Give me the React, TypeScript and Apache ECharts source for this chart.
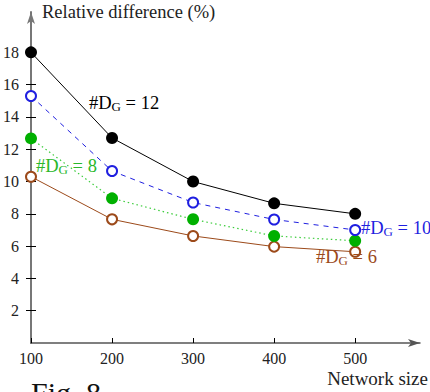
import React, { useEffect, useRef } from "react";
import * as echarts from "echarts";

const networkSizes = [100, 200, 300, 400, 500];
const dg12 = [18.0, 12.7, 10.0, 8.65, 8.0];
const dg10 = [15.3, 10.65, 8.7, 7.65, 7.0];
const dg8 = [12.67, 8.96, 7.66, 6.63, 6.33];
const dg6 = [10.3, 7.66, 6.63, 5.97, 5.65];
const xTicks = [100, 200, 300, 400, 500];
const yTicks = [2, 4, 6, 8, 10, 12, 14, 16, 18];

const FONT = "Liberation Serif";

function pairs(vals: number[]) {
  return networkSizes.map((x, i) => [x, vals[i]]);
}

function label(text: string, color: string, x: number, y: number) {
  return {
    type: "text",
    x,
    y,
    z: 100,
    style: {
      text: `{a|#D}{s|G}{a| = ${text}}`,
      fill: color,
      fontFamily: FONT,
      verticalAlign: "top",
      rich: {
        a: { fontFamily: FONT, fontSize: 18.5, lineHeight: 20, fill: color, verticalAlign: "middle" },
        s: { fontFamily: FONT, fontSize: 13, lineHeight: 12, fill: color, verticalAlign: "bottom" },
      },
    },
  };
}

export default function App() {
  const ref = useRef<HTMLDivElement>(null);
  useEffect(() => {
    const chart = echarts.init(ref.current!, null, { renderer: "svg" });
    const blue = "#1f1fe0";
    const greenPt = "#00b000";
    const greenLine = "#3acc3a";
    const brown = "#9c4a1a";
    const gridBox = { left: 31, right: 10, top: 12, bottom: 49, containLabel: false };
    chart.setOption({
      animation: false,
      backgroundColor: "#fff",
      textStyle: { fontFamily: FONT },
      grid: [gridBox, { ...gridBox }],
      xAxis: [
        {
          type: "value",
          gridIndex: 0,
          min: 100,
          max: 580,
          interval: 100,
          axisLine: {
            lineStyle: { color: "#555", width: 1.5 },
            symbol: ["none", "arrow"],
            symbolSize: [6, 12],
          },
          axisTick: { show: true, inside: true, length: 5, lineStyle: { color: "#000", width: 1 }, customValues: xTicks },
          axisLabel: { fontFamily: FONT, fontSize: 16, color: "#222", margin: 7, customValues: xTicks },
          splitLine: { show: false },
        },
        {
          type: "value",
          gridIndex: 1,
          min: 100,
          max: 580,
          show: false,
        },
      ],
      yAxis: [
        {
          type: "value",
          gridIndex: 0,
          min: 0,
          max: 20.5,
          interval: 2,
          axisLine: {
            show: true,
            lineStyle: { color: "#777", width: 2 },
            symbol: ["none", "arrow"],
            symbolSize: [6, 12],
          },
          axisTick: { show: true, length: 5, lineStyle: { color: "#000", width: 1 }, customValues: yTicks },
          axisLabel: { fontFamily: FONT, fontSize: 16, color: "#222", margin: 12, customValues: yTicks },
          splitLine: { show: false },
        },
        {
          type: "value",
          gridIndex: 1,
          min: 0,
          max: 20.5,
          interval: 2,
          position: "left",
          axisLine: { show: false },
          axisTick: { show: true, inside: true, length: 5, lineStyle: { color: "#000", width: 1 }, customValues: yTicks },
          axisLabel: { show: false },
          splitLine: { show: false },
        },
      ],
      series: [
        {
          type: "line",
          data: pairs(dg6),
          symbol: "emptyCircle",
          symbolSize: 10,
          lineStyle: { color: brown, width: 1 },
          itemStyle: { color: brown, borderColor: brown, borderWidth: 1 },
          z: 2,
        },
        {
          type: "line",
          data: pairs(dg8),
          symbol: "circle",
          symbolSize: 12,
          lineStyle: { color: greenLine, width: 1.2, type: [1.5, 3] },
          itemStyle: { color: greenPt },
          z: 3,
        },
        {
          type: "line",
          data: pairs(dg10),
          symbol: "emptyCircle",
          symbolSize: 10,
          lineStyle: { color: blue, width: 1, type: [5, 5] },
          itemStyle: { color: blue, borderColor: blue, borderWidth: 1 },
          z: 4,
        },
        {
          type: "line",
          data: pairs(dg12),
          symbol: "circle",
          symbolSize: 12,
          lineStyle: { color: "#000", width: 1 },
          itemStyle: { color: "#000" },
          z: 5,
        },
      ],
      graphic: [
        {
          type: "text",
          x: 42,
          y: 2,
          style: { text: "Relative difference (%)", fontFamily: FONT, fontSize: 18.5, fill: "#222", verticalAlign: "top" },
        },
        {
          type: "text",
          x: 428,
          y: 369,
          style: { text: "Network size", fontFamily: FONT, fontSize: 19, fill: "#222", align: "right", verticalAlign: "top" },
        },
        {
          type: "text",
          x: 31,
          y: 377,
          style: { text: "Fig. 8", fontFamily: FONT, fontSize: 30, fill: "#111", verticalAlign: "top" },
        },
        label("12", "#000", 89, 93),
        label("8", "#2ab82a", 36, 156),
        label("10", blue, 361, 218),
        label("6", brown, 316, 247),
      ],
    });
    return () => chart.dispose();
  }, []);
  return <div ref={ref} style={{ position: "fixed", left: 0, top: 0, width: 430, height: 392 }} />;
}
